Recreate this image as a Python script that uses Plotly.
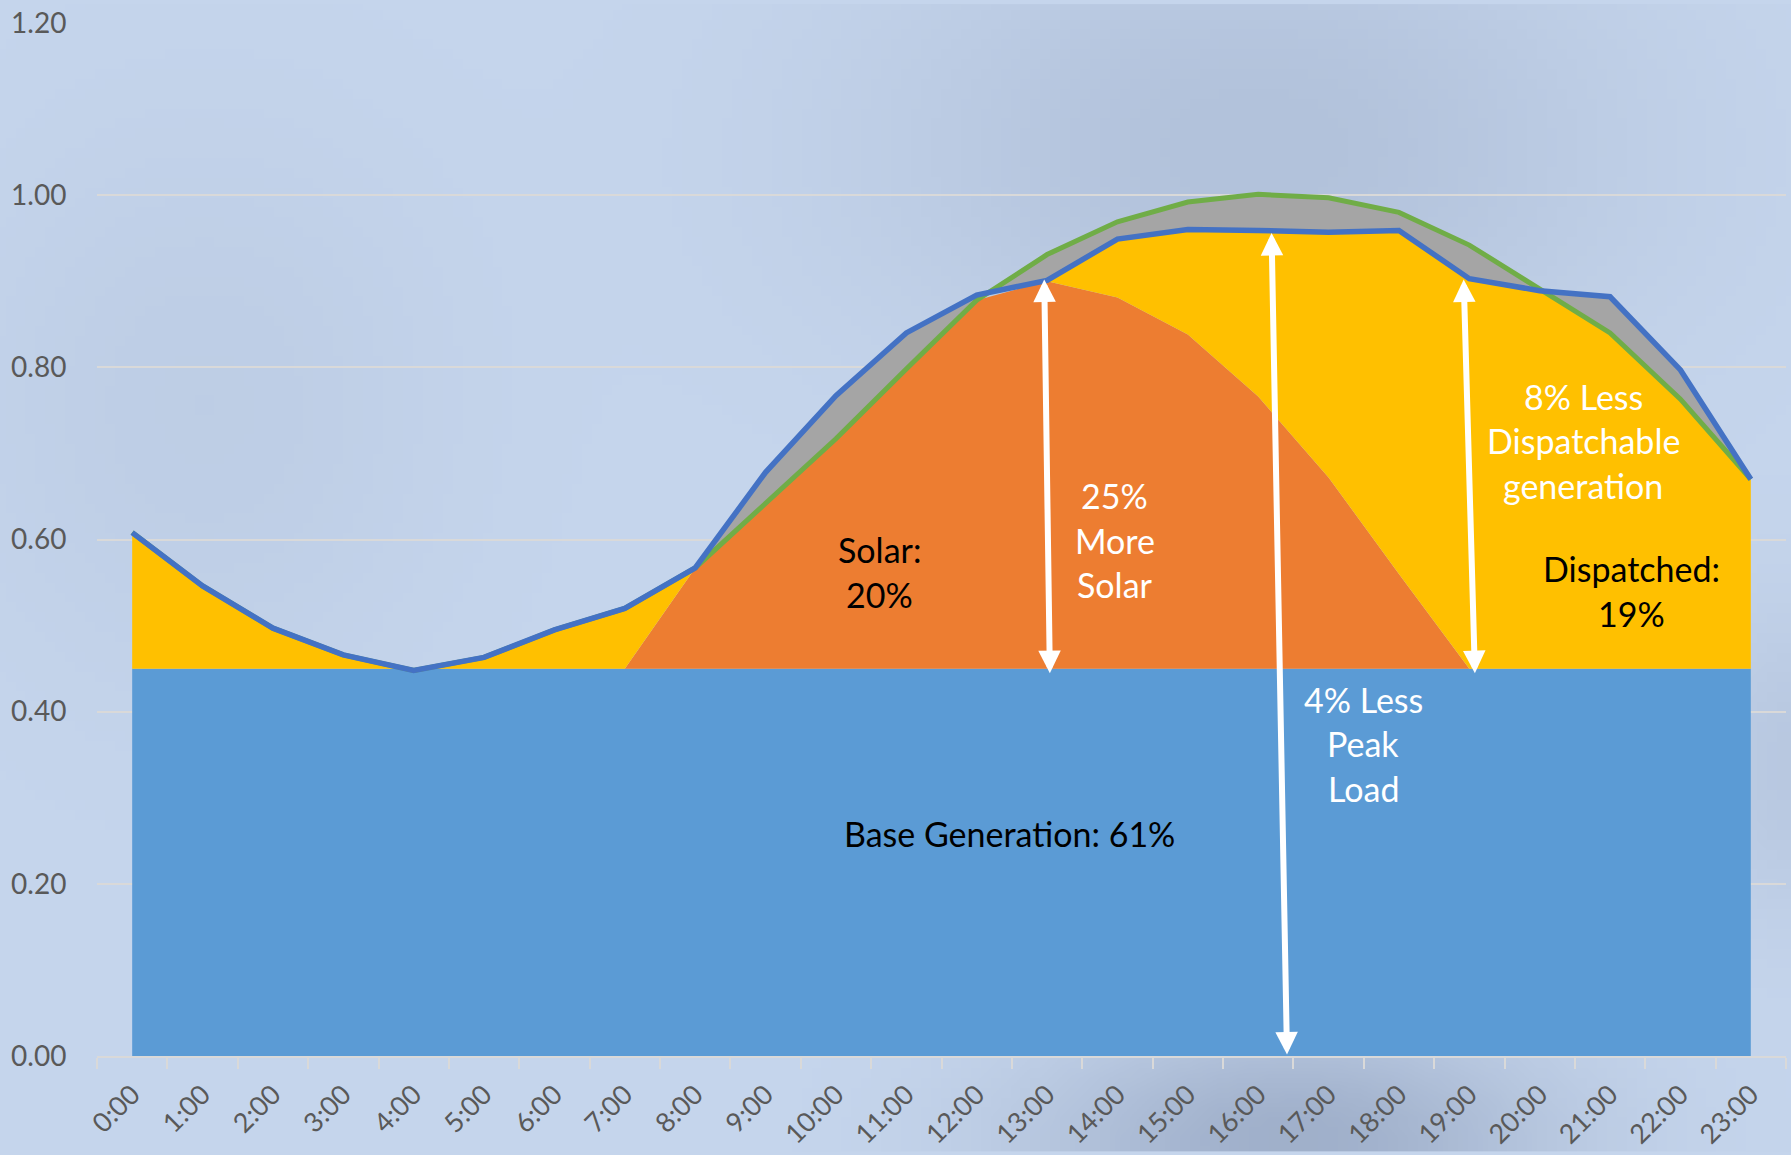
import base64
import struct
import zlib

import numpy as np
import plotly.graph_objects as go

# ---------------- data ----------------
hours = ["0:00", "1:00", "2:00", "3:00", "4:00", "5:00", "6:00", "7:00",
         "8:00", "9:00", "10:00", "11:00", "12:00", "13:00", "14:00", "15:00",
         "16:00", "17:00", "18:00", "19:00", "20:00", "21:00", "22:00", "23:00"]

base_gen = [0.45] * 24

solar = [0.0, 0.0, 0.0, 0.0, 0.0, 0.0, 0.0, 0.0,
         0.117, 0.192, 0.267, 0.348, 0.428, 0.450, 0.431, 0.388,
         0.316, 0.222, 0.110, 0.0, 0.0, 0.0, 0.0, 0.0]

dispatched = [0.158, 0.096, 0.047, 0.016, 0.0, 0.013, 0.045, 0.070,
              0.0, 0.0, 0.0, 0.0, 0.0, 0.0, 0.068, 0.122,
              0.193, 0.285, 0.400, 0.453, 0.438, 0.390, 0.314, 0.220]

original_load = [0.608, 0.546, 0.497, 0.466, 0.448, 0.463, 0.495, 0.520,
                 0.567, 0.642, 0.717, 0.798, 0.878, 0.931, 0.969, 0.992,
                 1.001, 0.997, 0.980, 0.942, 0.891, 0.840, 0.763, 0.670]

net_load = [0.608, 0.546, 0.497, 0.466, 0.448, 0.463, 0.495, 0.520,
            0.567, 0.678, 0.767, 0.840, 0.884, 0.901, 0.949, 0.960,
            0.959, 0.957, 0.959, 0.903, 0.889, 0.882, 0.797, 0.670]

y_ticks = [0.0, 0.2, 0.4, 0.6, 0.8, 1.0, 1.2]
y_tick_text = ["0.00", "0.20", "0.40", "0.60", "0.80", "1.00", "1.20"]

# text labels: (lines, x position (category index), y centre, colour)
label_lines = [
    ["Solar:", "20%"],
    ["25%", "More", "Solar"],
    ["8% Less", "Dispatchable", "generation"],
    ["Dispatched:", "19%"],
    ["4% Less", "Peak", "Load"],
    ["Base Generation: 61%"],
]
label_x = [10.62, 13.96, 20.62, 21.3, 17.49, 12.47]
label_y = [0.562, 0.599, 0.715, 0.540, 0.363, 0.258]
label_color = ["black", "white", "white", "black", "white", "black"]

# double headed arrows: (x_top, y_top, x_bottom, y_bottom)
arrow_x_top = [12.96, 16.19, 18.92]
arrow_y_top = [0.902, 0.956, 0.902]
arrow_x_bot = [13.04, 16.41, 19.08]
arrow_y_bot = [0.443, 0.0, 0.443]

# ---------------- background gradient image ----------------
W_FIG, H_FIG = 1791, 1155
ML, MR, MT, MB = 97, 5, 19, 96


def make_png(arr):
    h, w, _ = arr.shape
    raw = b"".join(b"\x00" + arr[i].tobytes() for i in range(h))

    def chunk(tag, data):
        c = struct.pack(">I", len(data)) + tag + data
        return c + struct.pack(">I", zlib.crc32(tag + data) & 0xFFFFFFFF)

    png = b"\x89PNG\r\n\x1a\n"
    png += chunk(b"IHDR", struct.pack(">IIBBBBB", w, h, 8, 2, 0, 0, 0))
    png += chunk(b"IDAT", zlib.compress(raw, 9))
    png += chunk(b"IEND", b"")
    return "data:image/png;base64," + base64.b64encode(png).decode()


gw, gh = 180, 116
yy, xx = np.mgrid[0:gh, 0:gw].astype(float)
xx *= W_FIG / gw
yy *= H_FIG / gh
dark = (20 * np.exp(-((xx - 1250) / 380) ** 2 - ((yy - 140) / 240) ** 2)
        + 38 * np.exp(-((xx - 1290) / 260) ** 2 - ((yy - 1140) / 120) ** 2)
        + 14 * np.exp(-((xx - 1800) / 120) ** 2 - ((yy - 760) / 160) ** 2)
        + 8 * np.exp(-((xx - 200) / 250) ** 2 - ((yy - 400) / 300) ** 2))
base_col = np.array([198.0, 214.0, 237.0])
img = base_col[None, None, :] - dark[:, :, None] * np.array([1.0, 1.0, 0.9])
img = np.clip(img, 0, 255).astype(np.uint8)
bg_src = make_png(img)

plot_w = W_FIG - ML - MR
plot_h = H_FIG - MT - MB

# ---------------- figure ----------------
fig = go.Figure()

fig.add_trace(go.Scatter(x=hours, y=base_gen, stackgroup="gen", mode="none",
                         fillcolor="#5b9bd5", hoverinfo="skip", name="Base"))
fig.add_trace(go.Scatter(x=hours, y=solar, stackgroup="gen", mode="none",
                         fillcolor="#ed7d31", hoverinfo="skip", name="Solar"))
fig.add_trace(go.Scatter(x=hours, y=dispatched, stackgroup="gen", mode="none",
                         fillcolor="#ffc000", hoverinfo="skip", name="Dispatched"))

# grey band between original and net load
fig.add_trace(go.Scatter(x=hours, y=original_load, mode="lines",
                         line=dict(width=0, color="rgba(0,0,0,0)"),
                         hoverinfo="skip", name="orig_fill"))
fig.add_trace(go.Scatter(x=hours, y=net_load, mode="lines", fill="tonexty",
                         fillcolor="#a5a5a5",
                         line=dict(width=0, color="rgba(0,0,0,0)"),
                         hoverinfo="skip", name="net_fill"))

fig.add_trace(go.Scatter(x=hours, y=original_load, mode="lines",
                         line=dict(width=5, color="#70ad47"), name="Original load"))
fig.add_trace(go.Scatter(x=hours, y=net_load, mode="lines",
                         line=dict(width=5.5, color="#4472c4"), name="Net load"))

FONT = "Lato, 'Open Sans', sans-serif"
TXT_SIZE = 34
LINE_H = 44.5

for lines, lx, ly, col in zip(label_lines, label_x, label_y, label_color):
    n = len(lines)
    for i, t in enumerate(lines):
        fig.add_annotation(x=lx, y=ly, xref="x", yref="y", text=t,
                           showarrow=False,
                           yshift=((n - 1) / 2 - i) * LINE_H,
                           font=dict(family=FONT, size=TXT_SIZE, color=col),
                           xanchor="center", yanchor="middle")

for xt, yt, xb, yb in zip(arrow_x_top, arrow_y_top, arrow_x_bot, arrow_y_bot):
    fig.add_annotation(x=xt, y=yt, ax=xb, ay=yb, xref="x", yref="y",
                       axref="x", ayref="y", text="", showarrow=True,
                       arrowhead=2, startarrowhead=2, arrowside="end+start",
                       arrowsize=0.75, startarrowsize=0.75, arrowwidth=6,
                       arrowcolor="white", standoff=0, startstandoff=0)

fig.add_layout_image(dict(source=bg_src, xref="paper", yref="paper",
                          x=-ML / plot_w, y=1 + MT / plot_h,
                          sizex=W_FIG / plot_w, sizey=H_FIG / plot_h,
                          xanchor="left", yanchor="top", sizing="stretch",
                          layer="below", opacity=1))

fig.update_layout(
    width=W_FIG, height=H_FIG,
    margin=dict(l=ML, r=MR, t=MT, b=MB, pad=0),
    paper_bgcolor="#c5d5ec",
    plot_bgcolor="rgba(0,0,0,0)",
    showlegend=False,
    font=dict(family=FONT, color="#595959"),
    xaxis=dict(
        type="category", range=[-0.5, 23.5],
        tickangle=-45, tickson="boundaries", ticks="outside",
        ticklen=11, tickwidth=2, tickcolor="#d9d9d9",
        ticklabelstandoff=10,
        showline=True, linecolor="#d9d9d9", linewidth=2,
        showgrid=False, zeroline=False,
        tickfont=dict(family=FONT, size=27, color="#595959"),
    ),
    yaxis=dict(
        range=[0, 1.2], tickvals=y_ticks, ticktext=y_tick_text,
        showgrid=True, gridcolor="#d9d9d9", gridwidth=1.5,
        zeroline=False, showline=False,
        ticks="outside", ticklen=24, tickcolor="rgba(0,0,0,0)",
        tickfont=dict(family=FONT, size=28, color="#595959"),
    ),
)

fig.write_html("out.html")
